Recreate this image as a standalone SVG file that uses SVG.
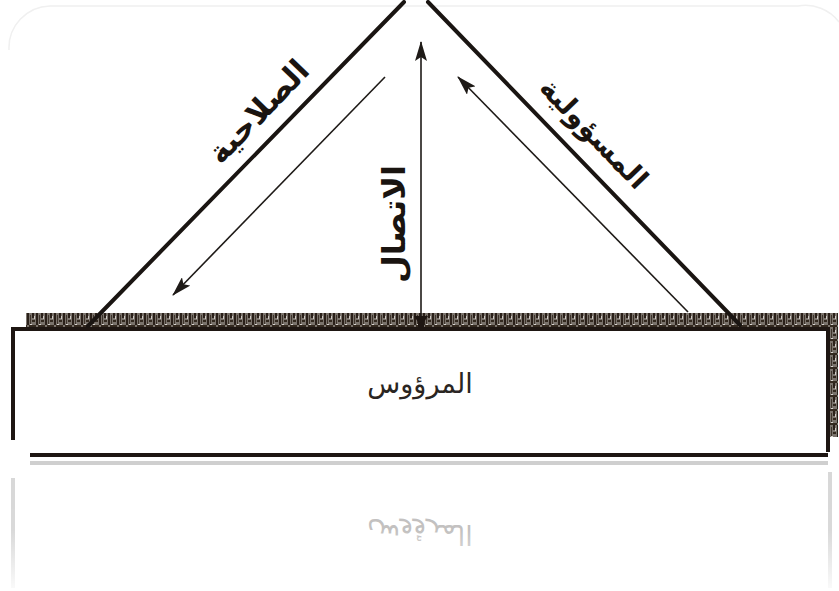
<svg xmlns="http://www.w3.org/2000/svg" width="839" height="591" viewBox="0 0 839 591">
  <defs>
    <pattern id="hatch" x="0" y="313" width="9" height="14" patternUnits="userSpaceOnUse">
      <rect width="9" height="14" fill="#7a736c"/>
      <rect x="0" y="0" width="2" height="12" fill="#2a2019"/>
      <rect x="3" y="2" width="1" height="9" fill="#3e342b"/>
      <rect x="5" y="0" width="2" height="5" fill="#2a2019"/>
      <rect x="5" y="7" width="3" height="2" fill="#33291f"/>
      <rect x="2" y="12" width="7" height="2" fill="#33291f"/>
      <rect x="7" y="3" width="1" height="3" fill="#cfcac5"/>
      <rect x="3" y="11" width="2" height="1" fill="#d8d4d0"/>
    </pattern>
    <marker id="ah" viewBox="0 0 20 12" refX="19" refY="6" markerWidth="20" markerHeight="12" markerUnits="userSpaceOnUse" orient="auto">
      <path d="M0,0 L20,6 L0,12 L4,6 Z" fill="#1e1a17"/>
    </marker>
    <linearGradient id="fade" x1="0" y1="0" x2="0" y2="1">
      <stop offset="0" stop-color="#fff" stop-opacity="0"/>
      <stop offset="1" stop-color="#fff" stop-opacity="0.9"/>
    </linearGradient>
  </defs>
  <style>
    .side { stroke: #1a1512; stroke-width: 4; fill: none; stroke-linecap: round; }
    .thin { stroke: #1e1a17; stroke-width: 1.6; fill: none; }
    .edge { stroke: #1e1612; stroke-width: 4; fill: none; }
    .lbl { font-family: "DejaVu Sans", "Noto Sans", sans-serif; font-weight: bold; fill: #1a1410; }
    .body { font-family: "DejaVu Sans", "Noto Sans", sans-serif; fill: #2a2522; }
  </style>

  <rect x="0" y="0" width="839" height="591" fill="#ffffff"/>
  <path d="M9,50 A42,42 0 0 1 50,6 H798 A42,42 0 0 1 839,22" fill="none" stroke="#f0f0f0" stroke-width="1.5"/>

  <g id="base">
    <rect x="26" y="313" width="812" height="14" fill="url(#hatch)"/>
    <rect x="829" y="313" width="9" height="124" fill="url(#hatch)"/>
    <path class="edge" d="M13,440 V329 H828 V452"/>
    <path class="edge" d="M30,455 H828"/>
    <text class="body" x="420" y="393" font-size="27" text-anchor="middle" direction="rtl">المرؤوس</text>
  </g>

  <g id="reflection" opacity="0.28">
    <path d="M30,463 H828" stroke="#555" stroke-width="4" fill="none"/>
    <path d="M13,478 V588 M830,472 V588" stroke="#777" stroke-width="4" fill="none"/>
    <text class="body" transform="translate(420,918) scale(1,-1)" x="0" y="393" font-size="27" text-anchor="middle" direction="rtl">المرؤوس</text>
  </g>
  <rect x="0" y="530" width="839" height="61" fill="url(#fade)"/>

  <g id="connectors">
    <line class="side" x1="404" y1="2" x2="88" y2="326"/>
    <line class="side" x1="428" y1="2" x2="740" y2="325"/>
    <line class="thin" x1="385" y1="77" x2="173" y2="295" marker-end="url(#ah)"/>
    <line class="thin" x1="688" y1="312" x2="458" y2="77" marker-end="url(#ah)"/>
    <line class="thin" x1="421" y1="318" x2="421" y2="42" marker-end="url(#ah)"/>
    <path d="M414,316 H428 L424,322 V329 H418 V322 Z" fill="#1e1612"/>
  </g>

  <g id="label-authority">
    <text class="lbl" transform="translate(266,119) rotate(-46)" font-size="31" text-anchor="middle" direction="rtl">الصلاحية</text>
  </g>
  <g id="label-responsibility">
    <text class="lbl" transform="translate(587,140) rotate(46)" font-size="28" text-anchor="middle" direction="rtl">المسؤولية</text>
  </g>
  <g id="label-communication">
    <text class="lbl" transform="translate(405,224) rotate(-90)" font-size="32" text-anchor="middle" direction="rtl">الاتصال</text>
  </g>
</svg>
